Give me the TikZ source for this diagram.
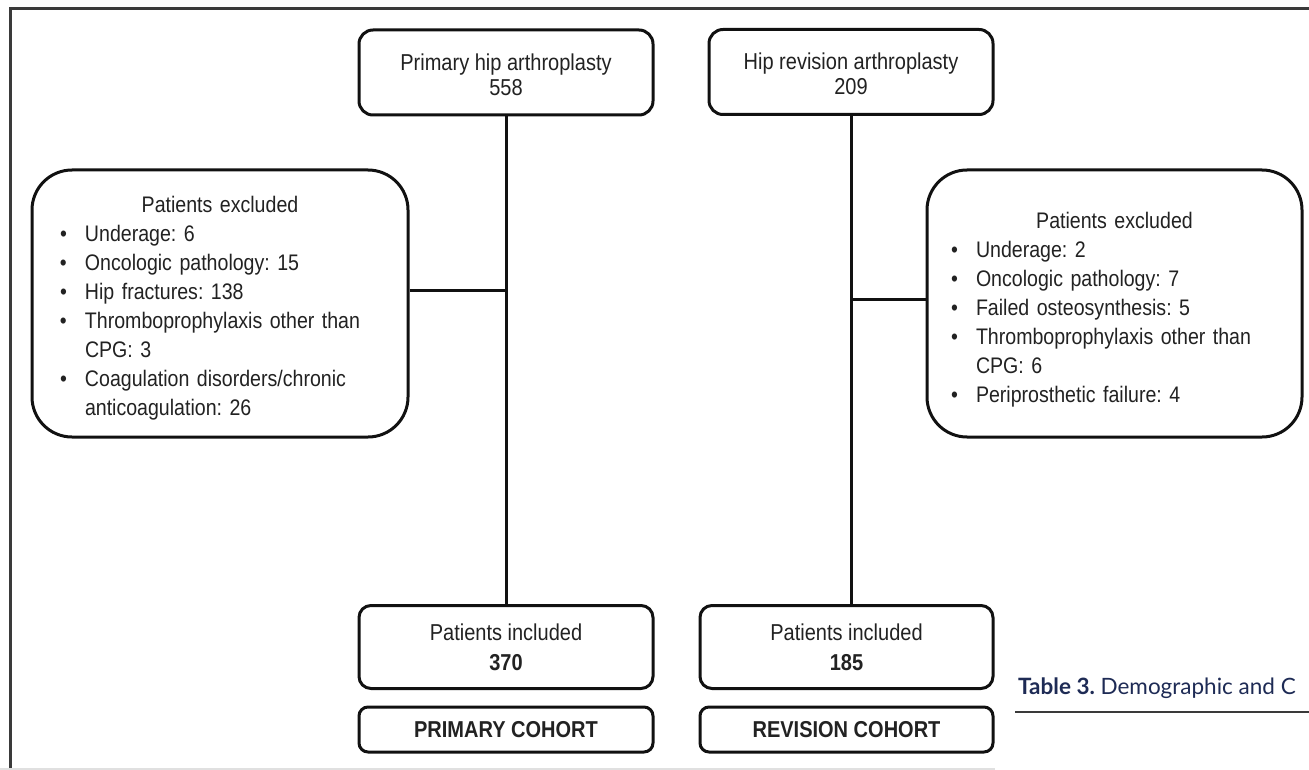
\documentclass[tikz,border=0pt]{standalone}
\usepackage{fontspec}
\setmainfont{Liberation Sans}[FakeStretch=0.87]
\newfontfamily\gill{Lato}
\usetikzlibrary{calc}
\definecolor{ink}{HTML}{111111}
\definecolor{txt}{HTML}{222222}
\definecolor{framec}{HTML}{3A3A3A}
\definecolor{navy}{HTML}{1E2B55}
\newcommand\bitem[1]{\par\hangindent=28pt\hangafter=1\noindent\makebox[28pt][l]{\hspace{3pt}\textbullet}#1}
\frenchspacing
\begin{document}
\frenchspacing
\begin{tikzpicture}[x=1pt,y=-1pt,
  every node/.style={text=txt},
  box/.style={draw=ink, line width=3pt, fill=white, align=center, inner sep=0pt,
    font=\fontsize{23}{25}\selectfont\frenchspacing},
  topbox/.style={box, rounded corners=14pt, minimum height=85pt},
  exbox/.style={box, rounded corners=40pt, minimum height=267pt, align=left,
    font=\fontsize{22.5}{29}\selectfont\frenchspacing},
  inbox/.style={box, rounded corners=12pt, minimum width=294pt, minimum height=83pt,
    font=\fontsize{23}{30}\selectfont},
  cobox/.style={box, rounded corners=9pt, minimum width=294pt, minimum height=45pt,
    font=\fontsize{23}{25}\selectfont\bfseries},
  link/.style={draw=ink, line width=3pt},
  rule/.style={draw=framec, line width=3pt},
]
\useasboundingbox (0,0) rectangle (1309,770);
\fill[white] (0,0) rectangle (1309,770);
% page frame
\draw[rule] (10,771) -- (10,9) -- (1310,9);
\draw[black!12, line width=1.2pt] (0,769) -- (995,769);

% top boxes
\node[topbox, minimum width=294pt] (tl) at (506,72.5) {\rule{0pt}{21pt}Primary hip arthroplasty\\558};
\node[topbox, minimum width=284pt] (tr) at (851,72) {\rule{0pt}{21pt}Hip revision arthroplasty\\209};

% excluded boxes
\node[exbox, minimum width=376pt, text width=326pt] (exl) at (220,303.5) {%
  {\centering Patients excluded\par}
  \bitem{Underage: 6}
  \bitem{Oncologic pathology: 15}
  \bitem{Hip fractures: 138}
  \bitem{Thromboprophylaxis other than\newline CPG: 3}
  \bitem{Coagulation disorders/chronic\newline anticoagulation: 26}\par\vspace{-10pt}};
\node[exbox, minimum width=375pt, text width=333pt] (exr) at (1114.5,303.5) {%
  {\centering Patients excluded\par}
  \bitem{Underage: 2}
  \bitem{Oncologic pathology: 7}
  \bitem{Failed osteosynthesis: 5}
  \bitem{Thromboprophylaxis other than\newline CPG: 6}
  \bitem{Periprosthetic failure: 4}\par\vspace{-12pt}};

% included boxes
\node[inbox] (inl) at (506,647) {Patients included\\\textbf{370}};
\node[inbox, minimum width=293pt] (inr) at (846.5,647) {Patients included\\\textbf{185}};

% cohort boxes
\node[cobox] (col) at (506,729.5) {PRIMARY COHORT};
\node[cobox, minimum width=293pt] (cor) at (846.5,729.5) {REVISION COHORT};

% connectors
\draw[link] (tl.south) -- (tl.south |- inl.north);
\draw[link] (tr.south) -- (tr.south |- inr.north);
\coordinate (jl) at ($(tl.south) + (0,174)$);
\coordinate (jr) at ($(tr.south) + (0,183)$);
\draw[link] (exl.east |- jl) -- (jl);
\draw[link] (jr) -- (exr.west |- jr);

% caption fragment of the page
\node[anchor=base west, inner sep=0pt, text=navy, font=\gill\fontsize{22.5}{24}\selectfont] (cap) at (1018,694) {\textbf{Table 3.} Demographic and C};
\draw[draw=framec, line width=1.5pt] (1015,712) -- (1310,712);
\end{tikzpicture}
\end{document}
